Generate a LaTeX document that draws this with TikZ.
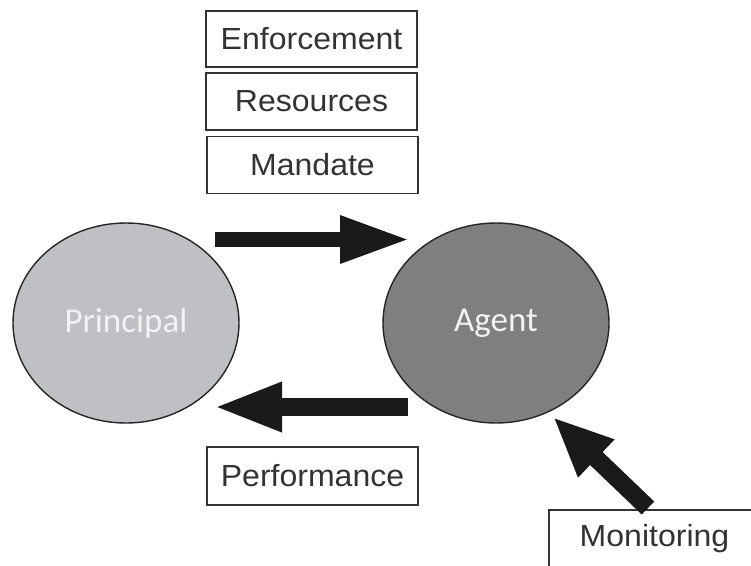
\documentclass[tikz,border=0pt]{standalone}
\usepackage{fontspec}
\setmainfont{Liberation Sans}
\newfontfamily\boxfont[FakeStretch=1.05]{Liberation Sans}
\newfontfamily\calfont{Carlito}
\usetikzlibrary{arrows.meta}
\definecolor{arrowblack}{HTML}{1A1A1A}
\definecolor{boxline}{HTML}{333333}
\definecolor{princfill}{HTML}{BFC0C4}
\definecolor{agentfill}{HTML}{7F7F7F}
\definecolor{ovaltext}{HTML}{F2F2F2}
\tikzset{
  labelbox/.style={draw=boxline, line width=1.3pt, fill=white, minimum width=211pt,
    minimum height=56pt, inner sep=0pt, text=boxline,
    font=\boxfont\fontsize{30.5}{34}\selectfont},
  oval/.style={ellipse, draw=black!85, line width=1.4pt, minimum width=226pt,
    minimum height=200pt, inner sep=0pt, text=ovaltext,
    font=\calfont\fontsize{35}{40}\selectfont},
  fatarrow/.style={draw=arrowblack, line width=#1},
}
\usetikzlibrary{shapes.geometric}
\begin{document}
\begin{tikzpicture}[x=1pt,y=-1pt]
\useasboundingbox (0,0) rectangle (751,565);
\fill[white] (0,0) rectangle (751,565);
% boxes
\node[labelbox] (enf) at (311.5,39) {Enforcement};
\node[labelbox, minimum height=57pt] (res) at (311.5,101.5) {Resources};
\node[labelbox, minimum width=211pt, minimum height=57pt] (man) at (312.5,165) {Mandate};
\node[labelbox, minimum height=58pt] (perf) at (312.5,476) {Performance};
\begin{scope}
\clip (0,0) rectangle (751,565);
\node[labelbox, minimum height=58pt] (mon) at (654.5,539) {Monitoring};
\end{scope}
% ovals
\node[oval, fill=princfill] (principal) at (126,323) {Principal};
\node[oval, fill=agentfill] (agent) at (496,323) {Agent};
% arrow end points
\coordinate (a1s) at (215,239.5);
\coordinate (a1e) at (410,239.5);
\coordinate (a2s) at (408,407);
\coordinate (a2e) at (213,407);
\coordinate (a3s) at (648,508);
\coordinate (a3e) at (553,417);
\draw[line width=15pt, arrowblack, -{Triangle[length=70pt,width=44pt]}] (a1s) -- (a1e);
\draw[line width=18pt, arrowblack, -{Triangle[length=69pt,width=45pt]}] (a2s) -- (a2e);
\draw[line width=18pt, arrowblack, -{Triangle[length=60pt,width=48pt]}] (a3s) -- (a3e);
\end{tikzpicture}
\end{document}
